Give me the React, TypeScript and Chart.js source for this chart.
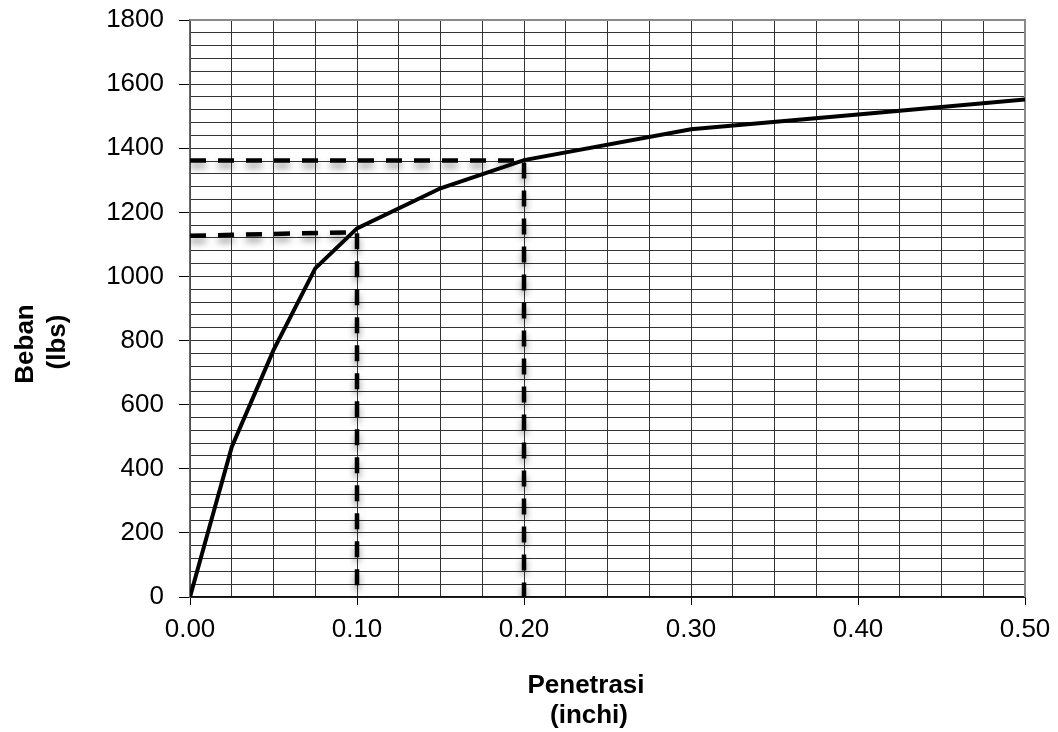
import React, { useEffect, useRef } from 'react';
import { Chart, registerables } from 'chart.js';

Chart.register(...registerables);

// CBR test: penetration (inch) vs load (lbs)
const penetration = [0, 0.0125, 0.025, 0.05, 0.075, 0.1, 0.15, 0.2, 0.3, 0.4, 0.5];
const load = [0, 235, 468, 770, 1025, 1150, 1275, 1363, 1459, 1505, 1552];

// Reading lines for the loads at 0.1" and 0.2" penetration
const read01X = [0, 0.1, 0.1];
const read01Y = [1127, 1138, 0];
const read02X = [0, 0.2, 0.2];
const read02Y = [1362, 1362, 0];

const xMin = 0;
const xMax = 0.5;
const xGridStep = 0.025;
const xLabelStep = 0.1;
const yMin = 0;
const yMax = 1800;
const yGridStep = 40;
const yLabelStep = 200;

const xTitle = ['Penetrasi', '(inchi)'];
const yTitle = ['Beban', '(lbs)'];

const FONT = "'Liberation Sans', Arial, Helvetica, sans-serif";

const toPoints = (xs: number[], ys: number[]) => xs.map((x, i) => ({ x, y: ys[i] }));

const isStep = (v: number, step: number) => {
  const r = v / step;
  return Math.abs(r - Math.round(r)) < 1e-6;
};

// Soft grey shadow under the dashed reading lines
const shadowPlugin = {
  id: 'readShadow',
  beforeDatasetDraw(chart: any, args: any) {
    const ds = chart.data.datasets[args.index];
    if (!ds.shadow) return;
    const ctx = chart.ctx;
    ctx.save();
    ctx.shadowColor = 'rgba(0,0,0,0.45)';
    ctx.shadowBlur = 7;
    ctx.shadowOffsetX = 0;
    ctx.shadowOffsetY = 5;
  },
  afterDatasetDraw(chart: any, args: any) {
    const ds = chart.data.datasets[args.index];
    if (!ds.shadow) return;
    chart.ctx.restore();
  },
};

// Grey frame on the top and right of the plot area
const framePlugin = {
  id: 'plotFrame',
  beforeDatasetsDraw(chart: any) {
    const { ctx, chartArea } = chart;
    const { left, top, right, bottom } = chartArea;
    ctx.save();
    ctx.strokeStyle = '#8a8a8a';
    ctx.lineWidth = 2;
    ctx.beginPath();
    ctx.moveTo(left, top);
    ctx.lineTo(right, top);
    ctx.lineTo(right, bottom);
    ctx.stroke();
    ctx.restore();
  },
};

// Two-line bold axis titles
const titlePlugin = {
  id: 'axisTitles',
  afterDraw(chart: any) {
    const { ctx } = chart;
    ctx.save();
    ctx.fillStyle = '#000';
    ctx.font = `bold 26px ${FONT}`;
    ctx.textAlign = 'center';
    ctx.textBaseline = 'alphabetic';
    ctx.fillText(xTitle[0], 586, 693);
    ctx.fillText(xTitle[1], 589, 723);
    ctx.translate(33, 344);
    ctx.rotate(-Math.PI / 2);
    ctx.fillText(yTitle[0], 0, 0);
    ctx.fillText(yTitle[1], 2, 32);
    ctx.restore();
  },
};

export default function App() {
  const canvasRef = useRef<HTMLCanvasElement | null>(null);

  useEffect(() => {
    const canvas = canvasRef.current;
    if (!canvas) return;
    const chart = new Chart(canvas, {
      type: 'line',
      data: {
        datasets: [
          {
            label: 'Beban',
            data: toPoints(penetration, load),
            borderColor: '#000',
            borderWidth: 4,
            pointRadius: 0,
            tension: 0,
            fill: false,
          } as any,
          {
            label: 'Baca 0.1',
            data: toPoints(read01X, read01Y),
            borderColor: '#000',
            borderWidth: 4.5,
            borderDash: [16, 12],
            pointRadius: 0,
            tension: 0,
            fill: false,
            shadow: true,
          } as any,
          {
            label: 'Baca 0.2',
            data: toPoints(read02X, read02Y),
            borderColor: '#000',
            borderWidth: 4.5,
            borderDash: [16, 12],
            pointRadius: 0,
            tension: 0,
            fill: false,
            shadow: true,
          } as any,
        ],
      },
      options: {
        responsive: false,
        maintainAspectRatio: false,
        animation: false,
        devicePixelRatio: 1,
        layout: { padding: { left: 0, top: 20, right: 33, bottom: 0 } },
        plugins: {
          legend: { display: false },
          tooltip: { enabled: false },
          title: { display: false },
        },
        scales: {
          x: {
            type: 'linear',
            min: xMin,
            max: xMax,
            ticks: {
              stepSize: xGridStep,
              autoSkip: false,
              maxRotation: 0,
              padding: 9,
              color: '#000',
              font: { family: FONT, size: 26 },
              callback: (v: any) => (isStep(Number(v), xLabelStep) ? Number(v).toFixed(2) : ''),
            },
            grid: {
              color: '#333',
              lineWidth: 1,
              drawTicks: true,
              tickLength: 8,
              tickColor: (ctx: any) =>
                ctx.tick && isStep(ctx.tick.value, xLabelStep) ? '#000' : 'rgba(0,0,0,0)',
            },
            border: { color: '#111', width: 1.5 },
            afterFit: (scale: any) => {
              scale.height = 135;
              scale.paddingLeft = 0;
              scale.paddingRight = 0;
            },
          },
          y: {
            type: 'linear',
            min: yMin,
            max: yMax,
            ticks: {
              stepSize: yGridStep,
              autoSkip: false,
              padding: 15,
              color: '#000',
              font: { family: FONT, size: 26 },
              callback: (v: any) => (isStep(Number(v), yLabelStep) ? String(Math.round(Number(v))) : ''),
            },
            grid: {
              color: '#333',
              lineWidth: 1,
              drawTicks: true,
              tickLength: 11,
              tickColor: (ctx: any) =>
                ctx.tick && isStep(ctx.tick.value, yLabelStep) ? '#000' : 'rgba(0,0,0,0)',
            },
            border: { color: '#666', width: 1.5 },
            afterFit: (scale: any) => {
              scale.width = 190;
              scale.paddingTop = 0;
              scale.paddingBottom = 0;
            },
          },
        },
      } as any,
      plugins: [shadowPlugin, framePlugin, titlePlugin],
    });
    return () => chart.destroy();
  }, []);

  return (
    <div style={{ position: 'fixed', left: 0, top: 0, width: 1058, height: 732, background: '#fff' }}>
      <canvas ref={canvasRef} width={1058} height={732} style={{ display: 'block' }} />
    </div>
  );
}
